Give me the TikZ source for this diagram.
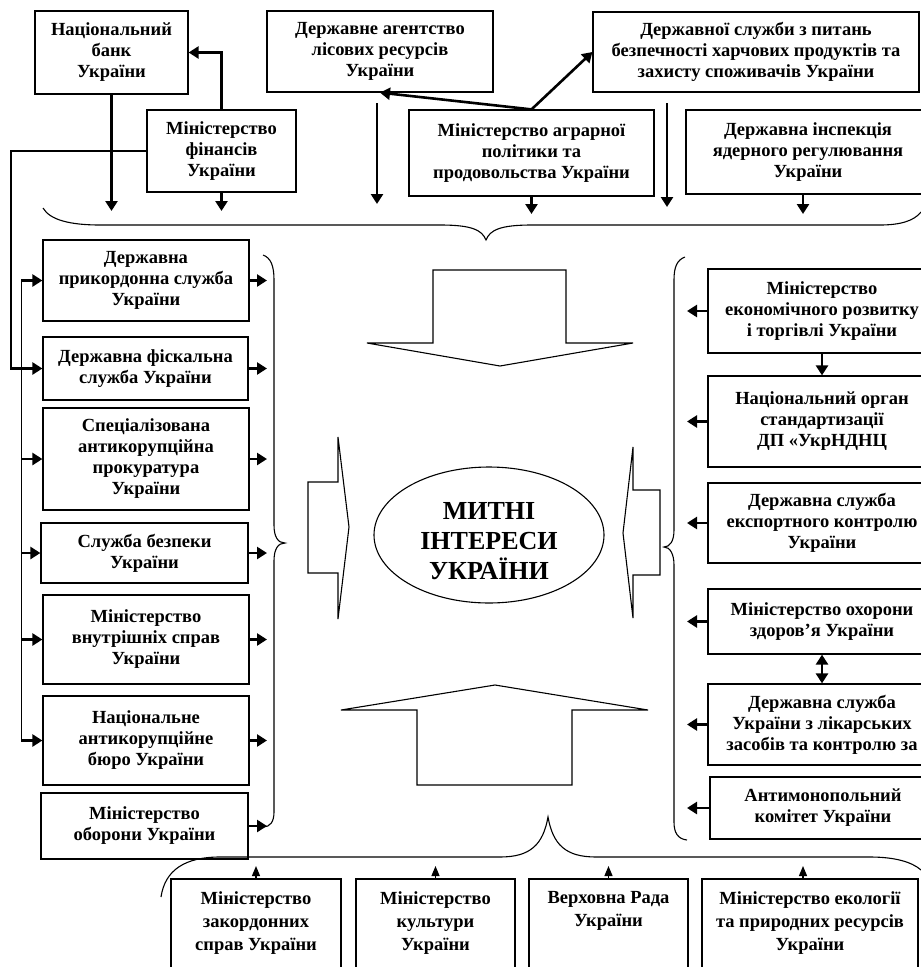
\documentclass[tikz,border=0pt]{standalone}
\usepackage{fontspec}
\setmainfont{Liberation Serif}
\usetikzlibrary{arrows.meta,shapes.geometric,calc}
\newcommand\boxfont{\fontsize{18.5}{21}\selectfont\bfseries}
\newcommand\lowfont{\fontsize{18.5}{23}\selectfont\bfseries}
\newcommand\bigfont{\fontsize{26}{30}\selectfont\bfseries}
\begin{document}
\begin{tikzpicture}[x=1pt,y=-1pt,
  box/.style={draw, line width=1.2pt, align=center, font=\boxfont, inner sep=1pt},
  txt/.style={align=center, font=\lowfont, inner sep=0pt},
  thk/.style={line width=2.6pt, -{Triangle[width=12pt,length=10pt]}},
  thn/.style={line width=1.2pt, -{Triangle[width=8pt,length=10pt]}},
  outl/.style={draw, line width=1.1pt, line join=miter},
  brace/.style={draw, line width=1.1pt}]
\clip (0,0) rectangle (921,967);
\fill[white] (0,0) rectangle (921,967);

% ---------- top row
\node[box, minimum width=153pt, minimum height=83pt] (nbu) at (111.5,52.5) {Національний\\банк\\України};
\node[box, minimum width=226pt, minimum height=81pt] (lis) at (380,51.5) {Державне агентство\\лісових ресурсів\\України};
\node[box, minimum width=326pt, minimum height=80pt] (harch) at (756,52) {Державної служби з питань\\безпечності харчових продуктів та\\захисту споживачів України};
\node[box, minimum width=149pt, minimum height=82pt] (minfin) at (221.5,151) {Міністерство\\фінансів\\України};
\node[box, minimum width=245pt, minimum height=86pt] (agr) at (531.5,153) {Міністерство аграрної\\політики та\\продовольства України};
\node[box, minimum width=244pt, minimum height=84pt] (yad) at (808,152) {Державна інспекція\\ядерного регулювання\\України};

% ---------- left column
\node[box, minimum width=206pt, minimum height=81pt] (prik) at (146,280.5) {Державна\\прикордонна служба\\України};
\node[box, minimum width=205pt, minimum height=63pt] (fisc) at (145.5,368.5) {Державна фіскальна\\служба України};
\node[box, minimum width=206pt, minimum height=102pt] (spec) at (146,459) {Спеціалізована\\антикорупційна\\прокуратура\\України};
\node[box, minimum width=207pt, minimum height=60pt] (sbu) at (144.5,553) {Служба безпеки\\України};
\node[box, minimum width=206pt, minimum height=89pt] (mvs) at (146,639.5) {Міністерство\\внутрішніх справ\\України};
\node[box, minimum width=206pt, minimum height=89pt] (nabu) at (146,740.5) {Національне\\антикорупційне\\бюро України};
\node[box, minimum width=207pt, minimum height=66pt] (obor) at (144.5,826) {Міністерство\\оборони України};

% ---------- right column
\node[box, minimum width=228pt, minimum height=84pt] (econ) at (822,311) {Міністерство\\економічного розвитку\\і торгівлі України};
\node[box, minimum width=228pt, minimum height=91pt] (natorg) at (822,421.5) {Національний орган\\стандартизації\\ДП «УкрНДНЦ};
\node[box, minimum width=228pt, minimum height=80pt] (export) at (822,523) {Державна служба\\експортного контролю\\України};
\node[box, minimum width=228pt, minimum height=65pt] (ohor) at (822,621.5) {Міністерство охорони\\здоров’я України};
\node[box, minimum width=228pt, minimum height=81pt] (likar) at (822,724.5) {Державна служба\\України з лікарських\\засобів та контролю за};
\node[box, minimum width=226pt, minimum height=62pt] (antim) at (823,808) {Антимонопольний\\комітет України};

% ---------- bottom row
\node[box, minimum width=170pt, minimum height=101pt] (zak) at (256,929.5) {};
\node[box, minimum width=159pt, minimum height=101pt] (kult) at (435.5,929.5) {};
\node[box, minimum width=159pt, minimum height=101pt] (rada) at (608.5,929.5) {};
\node[box, minimum width=216pt, minimum height=101pt] (ekol) at (810,929.5) {};
\node[txt, anchor=north] (zakt) at ($(zak.north)+(0,13)$) {Міністерство\\закордонних\\справ України};
\node[txt, anchor=north] (kultt) at ($(kult.north)+(0,13)$) {Міністерство\\культури\\України};
\node[txt, anchor=north] (radat) at ($(rada.north)+(0,13)$) {Верховна Рада\\України};
\node[txt, anchor=north] (ekolt) at ($(ekol.north)+(0,13)$) {Міністерство екології\\та природних ресурсів\\України};

% ---------- centre
\node[draw, ellipse, line width=1.1pt, minimum width=230pt, minimum height=136pt, inner sep=0pt] (core) at (489,535) {};
\node[align=center, font=\bigfont, inner sep=0pt] (coretext) at (489,541) {МИТНІ\\ІНТЕРЕСИ\\УКРАЇНИ};
\path[outl] (433,270) -- (566,270) -- (566,343) -- (633,343) -- (500,366) -- (367,343) -- (433,343) -- cycle;
\path[outl] (341,710) -- (495,685) -- (648,710) -- (572,710) -- (572,785) -- (417,785) -- (417,710) -- cycle;
\path[outl] (308,482) -- (338,482) -- (338,437) -- (349,527) -- (338,619) -- (338,573) -- (308,573) -- cycle;
\path[outl] (660,490) -- (633,490) -- (633,447) -- (623,533) -- (633,618) -- (633,575) -- (660,575) -- cycle;

% ---------- braces
\path[brace] (43,208) .. controls (50,220) and (70,225) .. (100,225) -- (440,225) .. controls (472,225) and (482,230) .. (486,240) .. controls (490,230) and (500,225) .. (532,225) -- (880,225) .. controls (900,225) and (914,221) .. (921,212);
\path[brace] (161,897) .. controls (165,870) and (185,857) .. (220,857) -- (500,857) .. controls (530,857) and (543,845) .. (548,817) .. controls (553,845) and (566,857) .. (596,857) -- (870,857) .. controls (895,857) and (912,862) .. (921,870);
\path[brace] (263,255) .. controls (271,258) and (274,266) .. (274,280) -- (274,525) .. controls (274,537) and (278,543) .. (285,543) .. controls (278,543) and (274,549) .. (274,561) -- (274,812) .. controls (274,822) and (270,827) .. (263,827);
\path[brace] (685,257) .. controls (677,260) and (674,267) .. (674,280) -- (674,530) .. controls (674,541) and (670,547) .. (664,547) .. controls (670,547) and (674,554) .. (674,565) -- (674,822) .. controls (674,833) and (678,839) .. (687,840);

% ---------- top connectors
\draw[thk] (minfin.north) |- (nbu.east);
\coordinate (t1) at (111.5,211);
\coordinate (t2) at (221.5,211);
\draw[thk] (nbu.south) -- (t1);
\draw[thk] (minfin.south) -- (t2);
\draw[thk] (agr.north) -- (lis.south);
\draw[thk] (agr.north) -- (harch.west);
\coordinate (a1) at (377,103); \coordinate (a1e) at (377,204);
\coordinate (a2) at (667,103); \coordinate (a2e) at (667,207);
\draw[thk] (a1) -- (a1e);
\draw[thk] (a2) -- (a2e);
\coordinate (t3) at (531.5,214);
\draw[thk] (agr.south) -- (t3);
\coordinate (y0) at (803,194); \coordinate (y1) at (803,214);
\draw[thk] (y0) -- (y1);

% ---------- left connectors
\coordinate (lt) at (11,151);
\draw[line width=2.6pt, line join=miter, -{Triangle[width=12pt,length=10pt]}] (minfin.west) -- (lt) |- (fisc.west);
\coordinate (trtop) at (21,280.5);
\coordinate (trbot) at (21,740.5);
\draw[line width=1pt] (trtop) -- (trbot);
\foreach \b in {prik,spec,sbu,mvs,nabu} \draw[thk] (\b.west -| trtop) -- (\b.west);
\coordinate (lb) at (267,0);
\foreach \b in {prik,fisc,spec,sbu,mvs,nabu,obor} \draw[thk] (\b.east) -- (\b.east -| lb);

% ---------- right connectors
\coordinate (rb) at (687,0);
\foreach \b in {econ,natorg,export,ohor,likar,antim} \draw[thk] (\b.west) -- (\b.west -| rb);
\draw[thk] (econ.south) -- (natorg.north);
\draw[line width=2.6pt, {Triangle[width=12pt,length=10pt]}-{Triangle[width=12pt,length=10pt]}] (ohor.south) -- (likar.north);

% ---------- bottom connectors
\coordinate (b1) at (256,866);
\coordinate (b2) at (435.5,866);
\coordinate (b3) at (608.5,866);
\coordinate (b4) at (803,866);
\coordinate (b4s) at (803,879);
\draw[thn] (zak.north) -- (b1);
\draw[thn] (kult.north) -- (b2);
\draw[thn] (rada.north) -- (b3);
\draw[thn] (b4s) -- (b4);
\end{tikzpicture}
\end{document}
